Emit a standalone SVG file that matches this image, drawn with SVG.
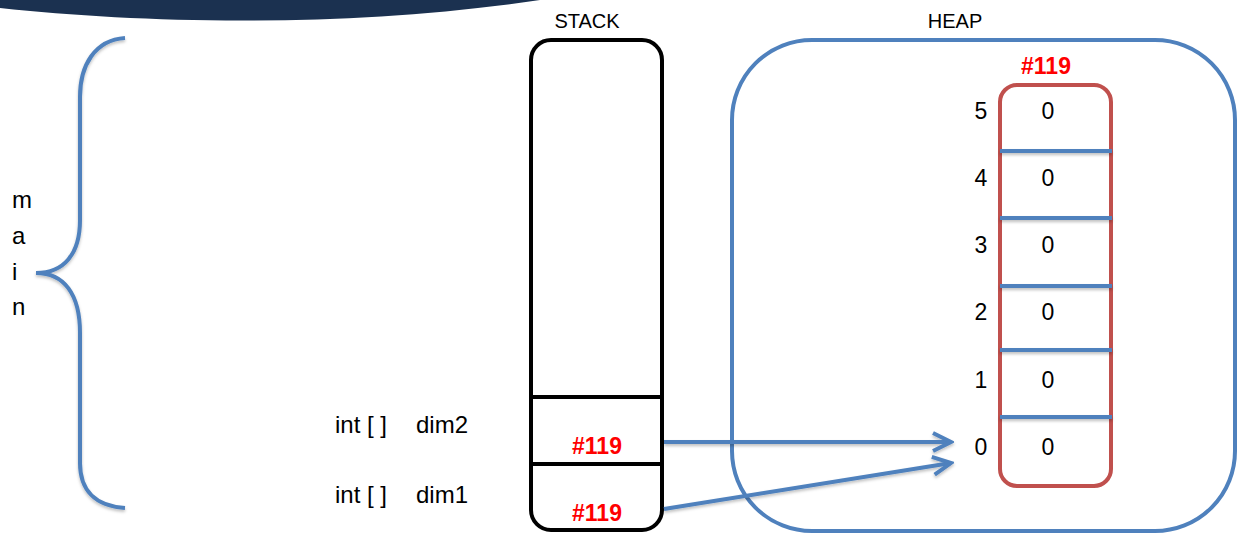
<svg xmlns="http://www.w3.org/2000/svg" width="1238" height="537" viewBox="0 0 1238 537">
<style>
.t{font-family:"Liberation Sans",Arial,sans-serif;fill:#000}
.lbl{font-size:20px}
.big{font-size:24px}
.num{font-size:23px;text-anchor:middle}
.addr{font-family:"Liberation Sans",Arial,sans-serif;font-weight:bold;font-size:23px;fill:#ff0000;text-anchor:middle}
.blue{fill:none;stroke:#4f81bd;stroke-width:4}
</style>
<defs>
<filter id="sh" x="-10%" y="-50%" width="120%" height="300%">
<feDropShadow dx="0" dy="2" stdDeviation="1.5" flood-color="#000" flood-opacity="0.25"/>
</filter>
<marker id="chev" viewBox="0 0 24 24" markerWidth="24" markerHeight="24" markerUnits="userSpaceOnUse" refX="21" refY="12" orient="auto">
<path d="M3,3 L21,12 L3,21" fill="none" stroke="#4f81bd" stroke-width="4" stroke-linejoin="miter"/>
</marker>
</defs>
<rect width="1238" height="537" fill="#fff"/>
<path id="banner" d="M0,0 L0,8 C150,24 350,28 540,0 Z" fill="#1b3150"/>
<g id="main">
<path class="blue" stroke-width="5" filter="url(#sh)" d="M125,38 C95,40 80,65 80,97 L80,220 C80,254 64,273 36,273 C64,273 80,294 80,333 L80,463 C80,490 95,506 125,508"/>
<text class="t big" x="12" y="208">m</text>
<text class="t big" x="12" y="244">a</text>
<text class="t big" x="12" y="280">i</text>
<text class="t big" x="12" y="315">n</text>
</g>
<g id="labels">
<text class="t big" x="335" y="433">int [ ]<tspan x="416">dim2</tspan></text>
<text class="t big" x="335" y="503">int [ ]<tspan x="416">dim1</tspan></text>
</g>
<g id="stack">
<text class="t lbl" x="587" y="28" text-anchor="middle">STACK</text>
<rect x="531" y="40" width="131" height="490" rx="20" fill="none" stroke="#000" stroke-width="4"/>
<line x1="531" y1="397" x2="662" y2="397" stroke="#000" stroke-width="4"/>
<line x1="531" y1="464" x2="662" y2="464" stroke="#000" stroke-width="4"/>
<text class="addr" x="597" y="454">#119</text>
<text class="addr" x="597" y="521">#119</text>
</g>
<g id="heap">
<text class="t lbl" x="955" y="28" text-anchor="middle">HEAP</text>
<rect class="blue" x="732" y="40" width="503" height="491" rx="80"/>
</g>
<g id="array">
<text class="addr" x="1046" y="74">#119</text>
<rect x="1000" y="85" width="111" height="401" rx="17" fill="none" stroke="#c0504d" stroke-width="4"/>
<g filter="url(#sh)" stroke="#4f81bd" stroke-width="4">
<line x1="1000" y1="151" x2="1112" y2="151"/>
<line x1="1000" y1="218" x2="1112" y2="218"/>
<line x1="1000" y1="286" x2="1112" y2="286"/>
<line x1="1000" y1="350" x2="1112" y2="350"/>
<line x1="1000" y1="417" x2="1112" y2="417"/>
</g>
<text class="t num" x="981" y="119">5</text>
<text class="t num" x="981" y="186">4</text>
<text class="t num" x="981" y="253">3</text>
<text class="t num" x="981" y="320">2</text>
<text class="t num" x="981" y="388">1</text>
<text class="t num" x="981" y="455">0</text>
<text class="t num" x="1048" y="119">0</text>
<text class="t num" x="1048" y="186">0</text>
<text class="t num" x="1048" y="253">0</text>
<text class="t num" x="1048" y="320">0</text>
<text class="t num" x="1048" y="388">0</text>
<text class="t num" x="1048" y="455">0</text>
</g>
<g id="connectors" filter="url(#sh)">
<line class="blue" x1="664" y1="442" x2="951" y2="442" marker-end="url(#chev)"/>
<line class="blue" x1="664" y1="509" x2="951" y2="463" marker-end="url(#chev)"/>
</g>
</svg>
